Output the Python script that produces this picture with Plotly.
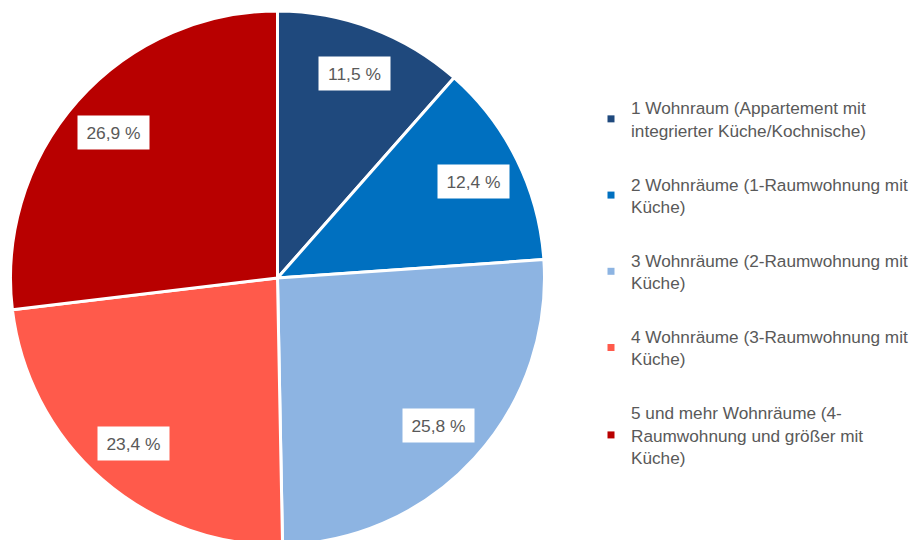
import math
import plotly.graph_objects as go

categories = [
    "1 Wohnraum (Appartement mit<br>integrierter Küche/Kochnische)",
    "2 Wohnräume (1-Raumwohnung mit<br>Küche)",
    "3 Wohnräume (2-Raumwohnung mit<br>Küche)",
    "4 Wohnräume (3-Raumwohnung mit<br>Küche)",
    "5 und mehr Wohnräume (4-<br>Raumwohnung und größer mit<br>Küche)",
]
values = [11.5, 12.4, 25.8, 23.4, 26.9]
colors = ["#1F497D", "#0070C0", "#8DB4E2", "#FF5A4B", "#B80000"]

W, H = 918, 540
FONT = "Liberation Sans, Arial, sans-serif"
TXT = "#595959"

# pie box in figure pixels (page body adds an 8px offset)
pie_left, pie_right, pie_top, pie_bottom = 2.5, 536.5, 3, 537
fig = go.Figure()
fig.add_trace(go.Pie(
    labels=categories, values=values, sort=False, direction="clockwise", rotation=0,
    marker=dict(colors=colors, line=dict(color="white", width=3)),
    textinfo="none", hoverinfo="label+percent", showlegend=False,
    domain=dict(x=[pie_left / W, pie_right / W], y=[1 - pie_bottom / H, 1 - pie_top / H]),
))

# legend entries with small square markers
for lab, col in zip(categories, colors):
    fig.add_trace(go.Scatter(x=[None], y=[None], mode="markers", name=lab,
                             legendgroup=lab,
                             marker=dict(symbol="square", size=7, color=col)))

# data labels: white boxes along slice mid-angle
diam = min(pie_right - pie_left, pie_bottom - pie_top)
r = diam / 2
cx = (pie_left + pie_right) / 2
cy = (pie_top + pie_bottom) / 2
total = sum(values)
cum = 0
annotations = []
for v in values:
    mid = (cum + v / 2) / total * 2 * math.pi
    cum += v
    px = cx + 0.82 * r * math.sin(mid)
    py = cy - 0.82 * r * math.cos(mid)
    annotations.append(dict(
        x=px / W, y=1 - py / H, xref="paper", yref="paper",
        xanchor="center", yanchor="middle",
        text=f"{v:.1f} %".replace(".", ","), showarrow=False,
        bgcolor="white", borderpad=5, width=61, height=23,
        font=dict(family=FONT, size=17.4, color=TXT),
    ))

fig.update_layout(
    width=W, height=H, margin=dict(l=0, r=0, t=0, b=0, autoexpand=False),
    paper_bgcolor="white", plot_bgcolor="white",
    xaxis=dict(visible=False), yaxis=dict(visible=False),
    annotations=annotations,
    legend=dict(x=583 / W, y=1 - 82 / H, xanchor="left", yanchor="top",
                font=dict(family=FONT, size=17.2, color=TXT),
                tracegroupgap=28.5, itemwidth=30, bgcolor="rgba(0,0,0,0)"),
)

fig.write_html("out.html")
